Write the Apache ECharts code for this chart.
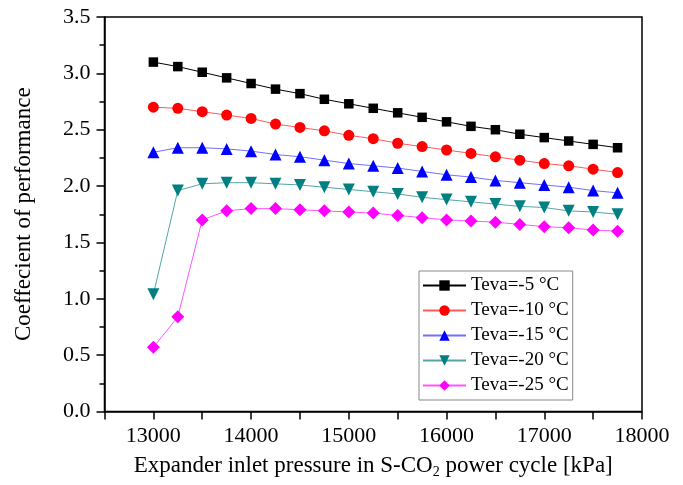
<!DOCTYPE html>
<html><head><meta charset="utf-8">
<script src="https://cdn.jsdelivr.net/npm/echarts@6/dist/echarts.min.js"></script>
<style>html,body{margin:0;padding:0;background:#fff}#c{width:683px;height:485px}</style>
</head><body><div id="c"></div>
<script>
const pressures = [13000,13250,13500,13750,14000,14250,14500,14750,15000,15250,15500,15750,16000,16250,16500,16750,17000,17250,17500,17750];
const teva5  = [3.10,3.06,3.01,2.96,2.91,2.86,2.82,2.77,2.73,2.69,2.65,2.61,2.57,2.53,2.50,2.46,2.43,2.40,2.37,2.34];
const teva10 = [2.70,2.69,2.66,2.63,2.60,2.55,2.52,2.49,2.45,2.42,2.38,2.35,2.32,2.29,2.26,2.23,2.20,2.18,2.15,2.12];
const teva15 = [2.30,2.34,2.34,2.33,2.31,2.28,2.26,2.23,2.20,2.18,2.16,2.13,2.10,2.08,2.05,2.03,2.01,1.99,1.96,1.94];
const teva20 = [1.04,1.96,2.02,2.03,2.03,2.02,2.01,1.99,1.97,1.95,1.93,1.90,1.88,1.86,1.84,1.82,1.81,1.78,1.77,1.75];
const teva25 = [0.57,0.84,1.70,1.78,1.80,1.80,1.79,1.78,1.77,1.76,1.74,1.72,1.70,1.69,1.68,1.66,1.64,1.63,1.61,1.60];
const seriesNames = ['Teva=-5 °C','Teva=-10 °C','Teva=-15 °C','Teva=-20 °C','Teva=-25 °C'];
const xTickLabels = [13000,14000,15000,16000,17000,18000];
const yTickLabels = ['0.0','0.5','1.0','1.5','2.0','2.5','3.0','3.5'];

const FONT = 'Liberation Serif';
const pair = a => pressures.map((p,i)=>[p,a[i]]);
const specs = [
  {d:teva5,  c:'#000000', lc:'#000000', sym:'rect', size:9.5, rot:0},
  {d:teva10, c:'#ff0000', lc:'#ff5a5a', sym:'circle', size:11, rot:0},
  {d:teva15, c:'#0000ff', lc:'#7070ff', sym:'triangle', size:12, rot:0},
  {d:teva20, c:'#008080', lc:'#55a5a5', sym:'triangle', size:12, rot:180},
  {d:teva25, c:'#ff00ff', lc:'#ff55ff', sym:'diamond', size:13, rot:0}
];
const chart = echarts.init(document.getElementById('c'), null, {renderer:'canvas'});
chart.setOption({
  animation:false,
  backgroundColor:'#fff',
  grid:{left:104.5, right:41, top:17, bottom:73.5, show:true, borderColor:'#000', borderWidth:1.5, backgroundColor:'transparent'},
  legend:{
    orient:'vertical', left:419, top:271, width:154,
    backgroundColor:'#fff', borderColor:'#888', borderWidth:1, borderRadius:0,
    padding:[5,4,5,3], itemGap:6, itemWidth:43, itemHeight:13,
    textStyle:{fontFamily:FONT, fontSize:19, color:'#000'},
    data: seriesNames
  },
  xAxis:{
    type:'value', min:12500, max:18000, interval:500,
    name:'Expander inlet pressure in S-CO{sub|2} power cycle [kPa]',
    nameLocation:'middle', nameGap:41,
    nameTextStyle:{fontFamily:FONT, fontSize:23, color:'#000',
      rich:{sub:{fontFamily:FONT, fontSize:14, color:'#000', verticalAlign:'bottom', padding:[13,0,0,0]}}},
    axisLine:{lineStyle:{color:'#000', width:1.5}},
    axisTick:{inside:false, length:8, lineStyle:{color:'#000', width:1.5}},
    splitLine:{show:false},
    axisLabel:{fontFamily:FONT, fontSize:22, color:'#000', margin:14,
      formatter:v => xTickLabels.indexOf(v) >= 0 ? String(v) : ''}
  },
  yAxis:{
    type:'value', min:0, max:3.5, interval:0.5,
    name:'Coeffecient of performance', nameLocation:'middle', nameGap:69,
    nameTextStyle:{fontFamily:FONT, fontSize:23, color:'#000'},
    axisLine:{lineStyle:{color:'#000', width:1.5}},
    axisTick:{inside:false, length:8, lineStyle:{color:'#000', width:1.5}},
    minorTick:{show:true, splitNumber:2, length:5, lineStyle:{color:'#000', width:1.5}},
    splitLine:{show:false},
    axisLabel:{fontFamily:FONT, fontSize:22, color:'#000', margin:14,
      formatter:(v)=>yTickLabels[Math.round(v*2)]}
  },
  series: specs.map((s,i)=>({
    name:seriesNames[i], type:'line', data:pair(s.d),
    symbol:s.sym, symbolSize:s.size, symbolRotate:s.rot,
    itemStyle:{color:s.c, borderWidth:0},
    lineStyle:{color:s.lc, width:1},
    emphasis:{disabled:true}
  }))
});
</script></body></html>
